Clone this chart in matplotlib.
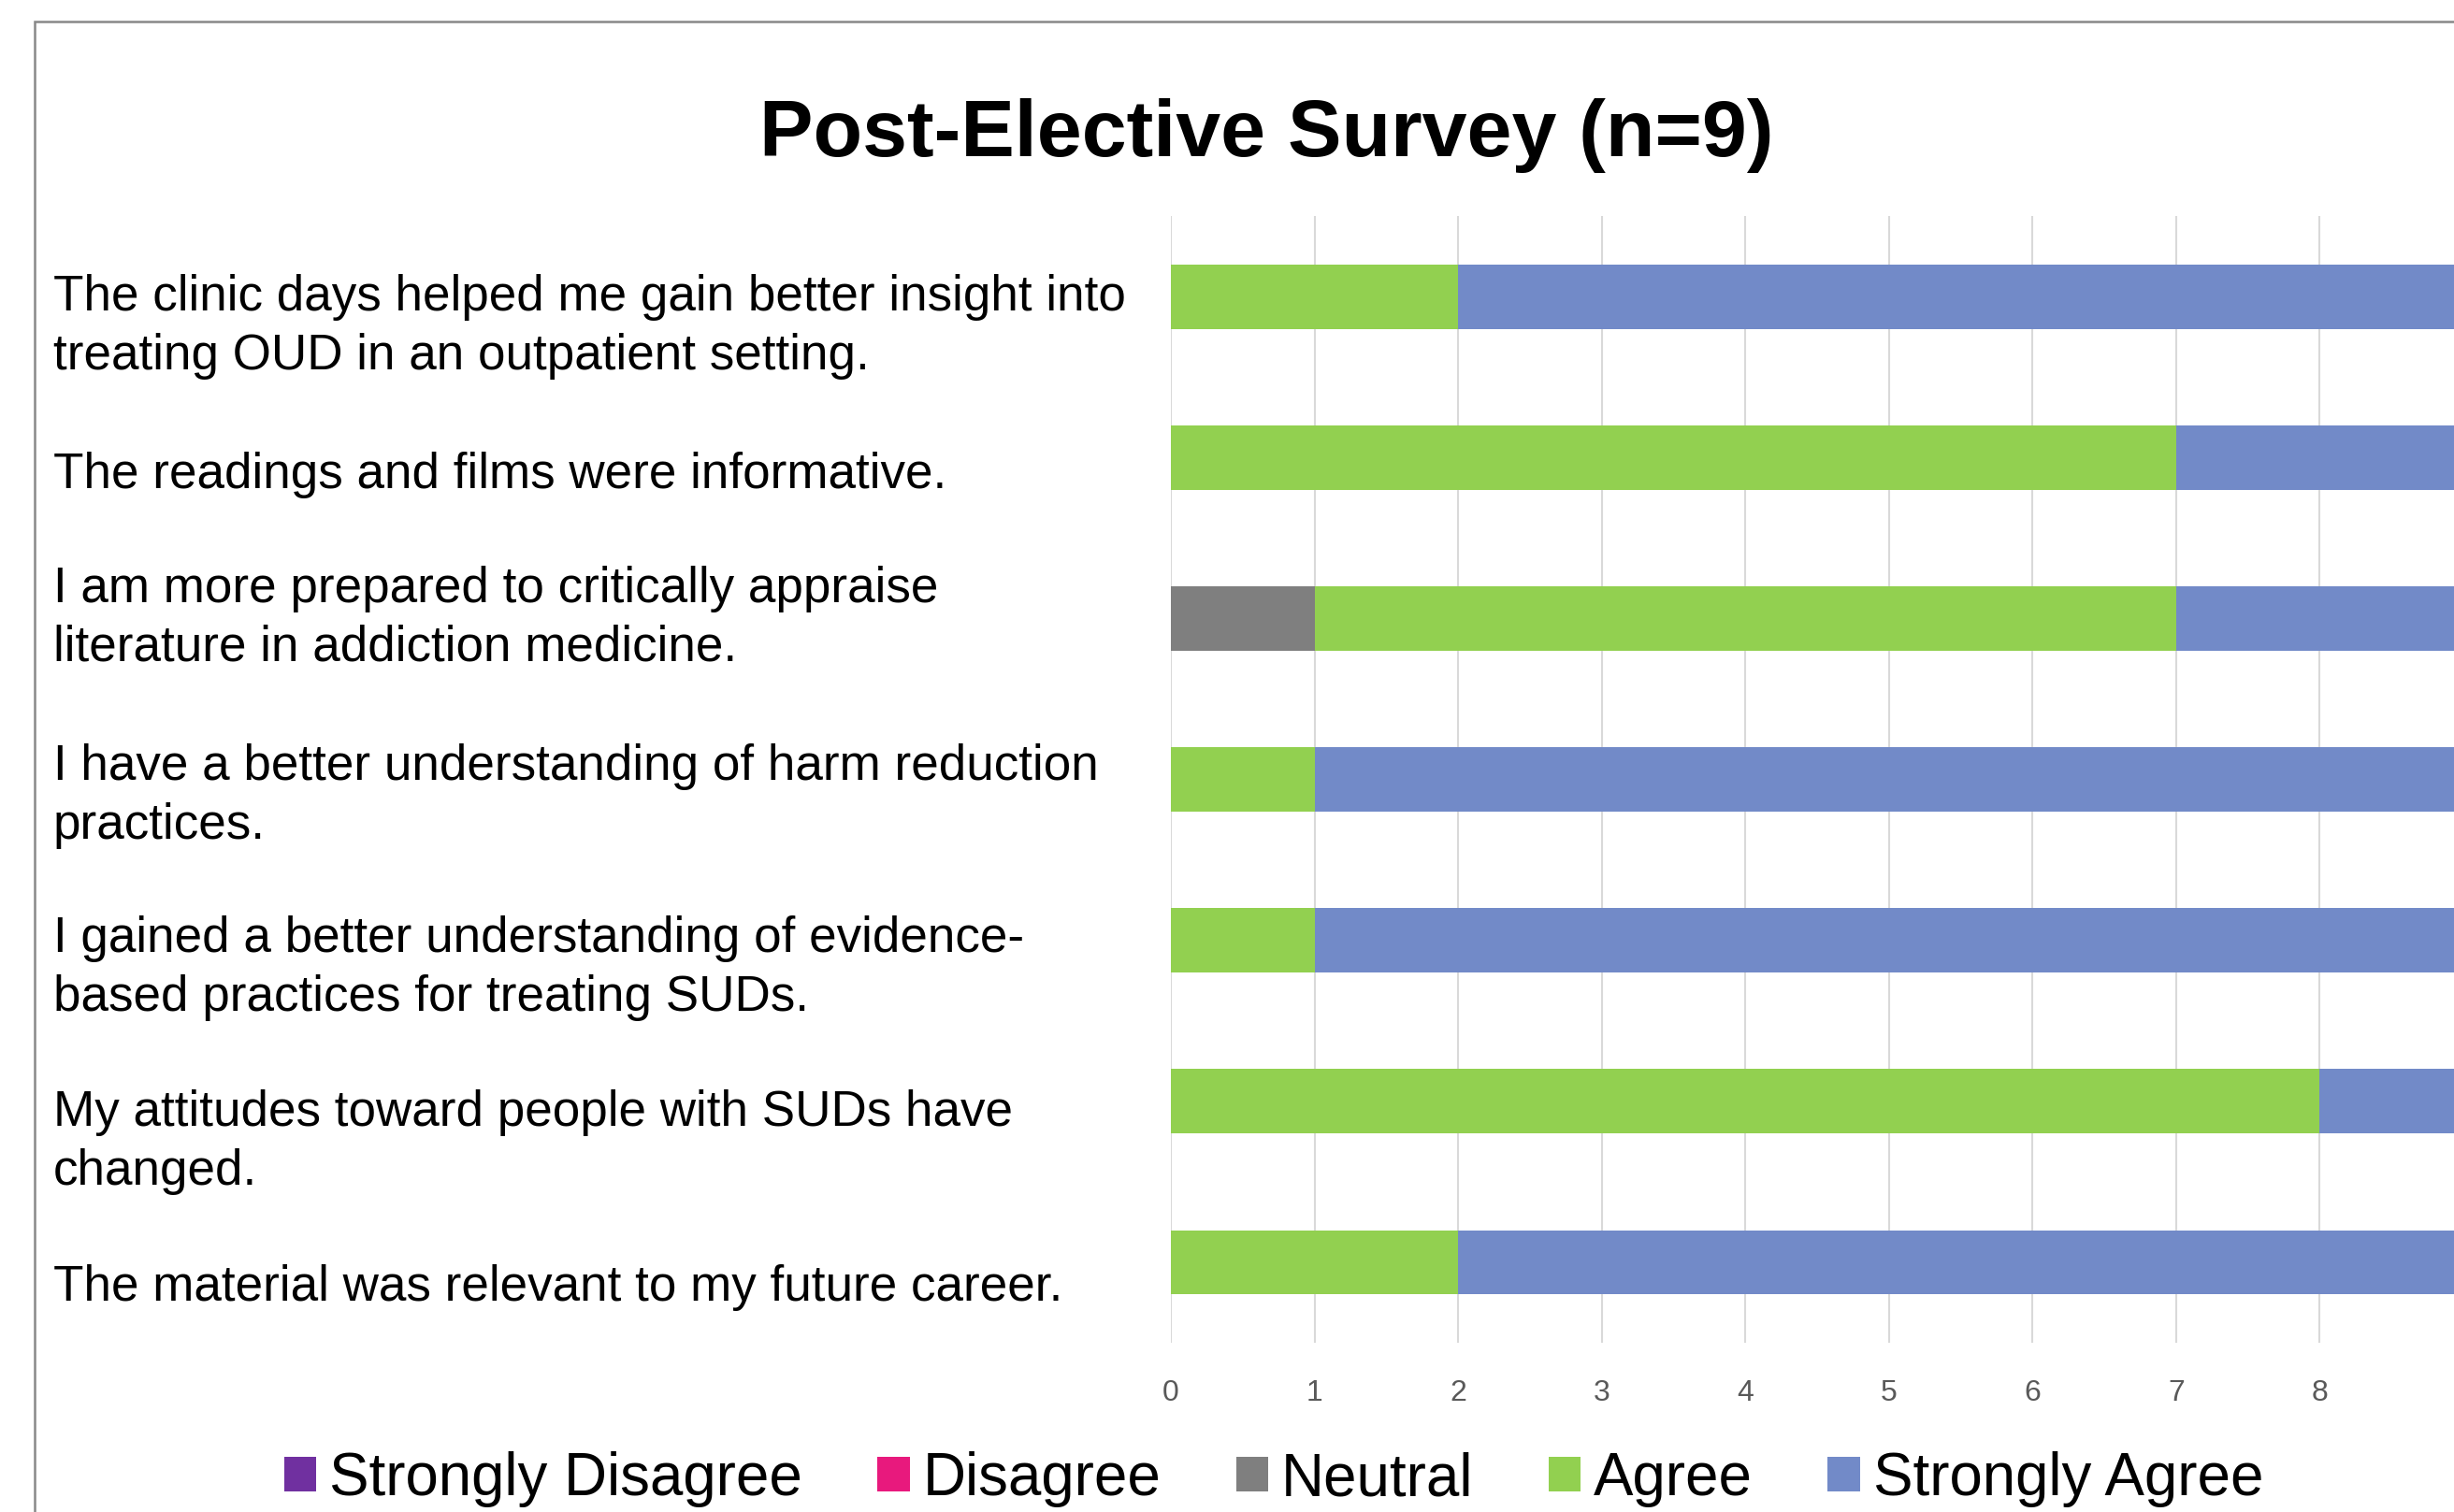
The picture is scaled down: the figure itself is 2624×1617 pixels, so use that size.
import numpy as np
import matplotlib.pyplot as plt
from matplotlib.patches import Patch, Rectangle

plt.rcParams['font.family'] = ['Liberation Sans', 'DejaVu Sans']

# survey statements, top to bottom
statements = [
    "The clinic days helped me gain better insight into\ntreating OUD in an outpatient setting.",
    "The readings and films were informative.",
    "I am more prepared to critically appraise\nliterature in addiction medicine.",
    "I have a better understanding of harm reduction\npractices.",
    "I gained a better understanding of evidence-\nbased practices for treating SUDs.",
    "My attitudes toward people with SUDs have\nchanged.",
    "The material was relevant to my future career.",
]

responses = ["Strongly Disagree", "Disagree", "Neutral", "Agree", "Strongly Agree"]
colors = ["#7030A0", "#E8197D", "#7F7F7F", "#92D050", "#728AC8"]

# counts per statement (n=9)
strongly_disagree = [0, 0, 0, 0, 0, 0, 0]
disagree = [0, 0, 0, 0, 0, 0, 0]
neutral = [0, 0, 1, 0, 0, 0, 0]
agree = [2, 7, 6, 1, 1, 8, 2]
strongly_agree = [7, 2, 2, 8, 8, 1, 7]

xticks = [0, 1, 2, 3, 4, 5, 6, 7, 8]

W, H = 2624, 1617
fig = plt.figure(figsize=(W / 200, H / 200), dpi=200)

# outer chart frame
fig.add_artist(Rectangle((37 / W, -0.05), 1.2, 1 - 23 / H + 0.05,
                         transform=fig.transFigure, fill=False,
                         edgecolor='#888888', lw=0.9))

ax = fig.add_axes([1252 / W, 1 - 1436 / H, (2634 - 1252) / W, (1436 - 231) / H])

y = np.arange(len(statements))
left = np.zeros(len(statements))
series = [strongly_disagree, disagree, neutral, agree, strongly_agree]
for vals, name, c in zip(series, responses, colors):
    vals = np.array(vals, dtype=float)
    ax.barh(y, vals, left=left, height=0.4, color=c, label=name)
    left += vals

ax.set_xlim(0, 9)
ax.set_ylim(len(statements) - 0.5, -0.5)
ax.set_xticks(xticks)
ax.set_yticks([])
ax.grid(axis='x', color='#D9D9D9', lw=0.75)
ax.set_axisbelow(True)
for s in ax.spines.values():
    s.set_visible(False)
ax.tick_params(axis='x', length=0, pad=14, labelsize=11.5, labelcolor='#595959')
for lbl in ax.get_xticklabels():
    lbl.set_family(['Liberation Sans Narrow', 'Liberation Sans'])

# statement text on the left
label_tops = [293, 483, 605, 795, 979, 1165, 1352]
for txt, top in zip(statements, label_tops):
    fig.text(57 / W, 1 - top / H, txt, ha='left', va='top',
             fontsize=19.1, linespacing=1.33)

fig.text(1354 / W, 1 - 167 / H, "Post-Elective Survey (n=9)", ha='center',
         va='baseline', fontsize=31, fontweight='bold')

handles = [Patch(facecolor=c, edgecolor='none') for c in colors]
fig.legend(handles, responses, loc='center', bbox_to_anchor=(1362 / W, 1 - 1582 / H),
           ncol=5, frameon=False, fontsize=22.9, handlelength=0.54, handleheight=0.54,
           handletextpad=0.22, columnspacing=1.26, borderpad=0, borderaxespad=0)

fig.savefig('out.png', dpi=200)
